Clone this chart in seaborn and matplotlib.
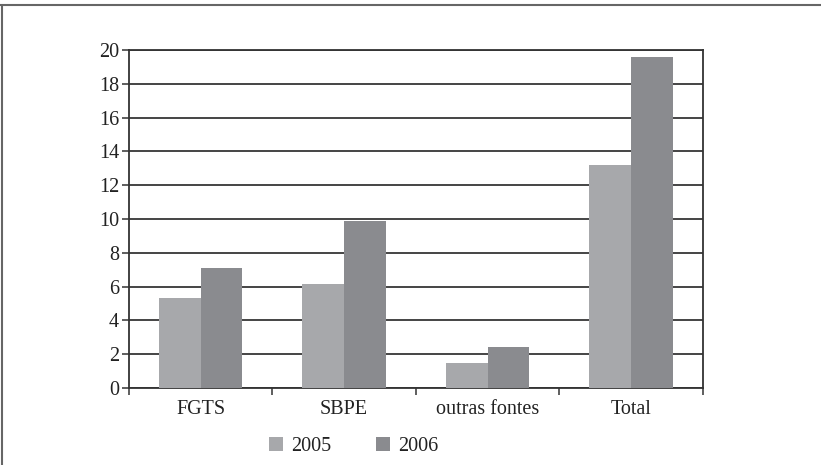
import matplotlib

matplotlib.use("Agg")

import matplotlib.pyplot as plt
import pandas as pd
import seaborn as sns
from matplotlib.lines import Line2D
from matplotlib.ticker import FixedLocator

categories = ["FGTS", "SBPE", "outras fontes", "Total"]
values_2005 = [5.3, 6.15, 1.5, 13.2]
values_2006 = [7.1, 9.9, 2.4, 19.6]
years = ["2005", "2006"]
y_ticks = list(range(0, 21, 2))

df = pd.DataFrame({
    "Fonte": categories * 2,
    "Valor": values_2005 + values_2006,
    "Ano": [years[0]] * 4 + [years[1]] * 4,
})

sns.set_theme(style="white")
plt.rcParams["font.family"] = ["Liberation Serif", "DejaVu Serif"]

fig = plt.figure(figsize=(8.21, 4.65), dpi=100)
ax = fig.add_axes([0.157, 0.1656, 0.699, 0.727])

sns.barplot(
    data=df, x="Fonte", y="Valor", hue="Ano",
    palette=["#a7a8ab", "#8a8b8f"], width=0.58, saturation=1,
    edgecolor="none", linewidth=0, ax=ax, legend=True, zorder=3,
)

ax.set_ylim(0, 20)
ax.set_xlim(-0.5, 3.5)
ax.set_yticks(y_ticks)
ax.set_xlabel("")
ax.set_ylabel("")
ax.yaxis.grid(True, color="#444444", linewidth=1.4, zorder=0)
ax.set_axisbelow(True)
for s in ax.spines.values():
    s.set_visible(True)
    s.set_color("#333333")
    s.set_linewidth(1.3)
ax.tick_params(axis="y", left=True, direction="out", length=5, width=1.1,
               color="#333333", labelsize=14.5, labelcolor="#222222", pad=2)
ax.tick_params(axis="x", which="major", bottom=False, labelsize=14.5,
               labelcolor="#222222", pad=3)
ax.xaxis.set_minor_locator(FixedLocator([-0.5, 0.5, 1.5, 2.5, 3.5]))
ax.tick_params(axis="x", which="minor", bottom=True, direction="out",
               length=5, width=1.1, color="#333333")

handles, labels = ax.get_legend_handles_labels()
ax.get_legend().remove()
fig.legend(
    handles, labels, loc="center", bbox_to_anchor=(0.431, 0.04), ncol=2,
    frameon=False, fontsize=14.5, handlelength=0.7, handleheight=0.7,
    handletextpad=0.4, columnspacing=2.2, labelcolor="#222222",
)

fig.add_artist(Line2D([0, 1], [0.989, 0.989], color="#666666", linewidth=1.5, transform=fig.transFigure))
fig.add_artist(Line2D([0.003, 0.003], [0, 0.989], color="#666666", linewidth=1.5, transform=fig.transFigure))

fig.savefig("out.png", dpi=100)
plt.close(fig)
